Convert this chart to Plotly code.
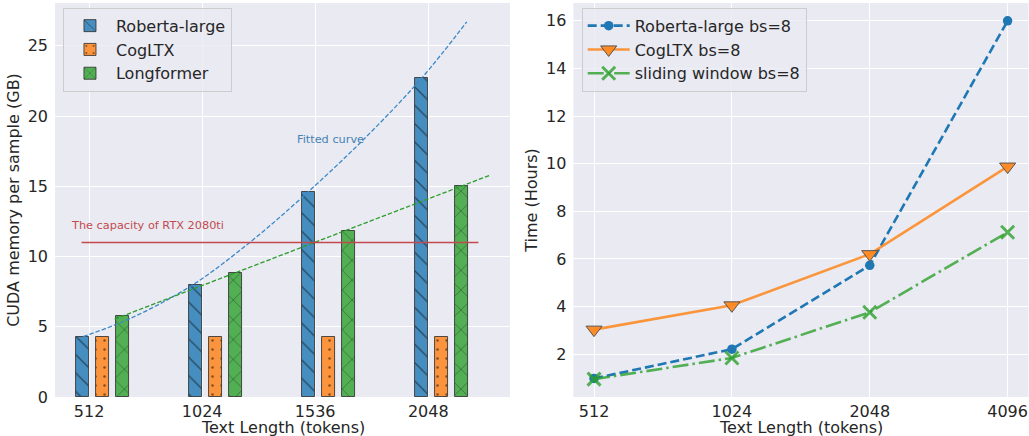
import plotly.graph_objects as go

# ---------------- data ----------------
lengths_mem = [512, 1024, 1536, 2048]
roberta_mem = [4.3, 8.0, 14.6, 22.7]
cogltx_mem = [4.3, 4.3, 4.3, 4.3]
longformer_mem = [5.74, 8.83, 11.84, 14.99]

# fitted curves
fit_rob_x = [485, 700, 983, 1255, 1504, 1769, 2018, 2222]
fit_rob_y = [4.3, 5.6, 8.0, 11.2, 14.6, 18.55, 22.7, 26.7]
fit_long_x = [628, 2324]
fit_long_y = [5.55, 15.77]

capacity = 11.0
capacity_x = [478, 2275]

time_labels = ["512", "1024", "2048", "4096"]
time_idx = [0, 1, 2, 3]
roberta_time = [0.98, 2.21, 5.73, 16.0]
cogltx_time = [3.03, 4.05, 6.2, 9.88]
sliding_time = [0.95, 1.84, 3.76, 7.12]

x_title = "Text Length (tokens)"

# ---------------- style ----------------
BG = "#EAEAF2"
TXT = "#262626"
FONT = "DejaVu Sans"
FS = 16
C_BLUE = "#1f77b4"
BAR_BLUE = "#478ec0"
BAR_ORANGE = "#fb943c"
BAR_GREEN = "#52af54"
RED = "#c24a4f"

fig = go.Figure()

edge = dict(color="rgba(50,50,50,0.85)", width=1)

fig.add_trace(go.Bar(
    x=lengths_mem, y=roberta_mem, width=60, offset=-60, name="Roberta-large",
    marker=dict(color=BAR_BLUE, line=edge,
                pattern=dict(shape="\\", fgcolor="black", size=13, solidity=0.1)),
    xaxis="x", yaxis="y", legend="legend"))
fig.add_trace(go.Bar(
    x=lengths_mem, y=cogltx_mem, width=60, offset=30, name="CogLTX",
    marker=dict(color=BAR_ORANGE, line=edge,
                pattern=dict(shape=".", fgcolor="black", size=9, solidity=0.06)),
    xaxis="x", yaxis="y", legend="legend"))
fig.add_trace(go.Bar(
    x=lengths_mem, y=longformer_mem, width=60, offset=120, name="Longformer",
    marker=dict(color=BAR_GREEN, line=edge,
                pattern=dict(shape="x", fgcolor="black", size=14, solidity=0.08)),
    xaxis="x", yaxis="y", legend="legend"))

fig.add_trace(go.Scatter(
    x=fit_rob_x, y=fit_rob_y, mode="lines", line_shape="spline",
    line=dict(color="#3b88c8", width=1.3, dash="4.5px,2px"),
    showlegend=False, xaxis="x", yaxis="y"))
fig.add_trace(go.Scatter(
    x=fit_long_x, y=fit_long_y, mode="lines",
    line=dict(color="#2a9d2a", width=1.3, dash="4.5px,2px"),
    showlegend=False, xaxis="x", yaxis="y"))
fig.add_trace(go.Scatter(
    x=capacity_x, y=[capacity, capacity], mode="lines",
    line=dict(color=RED, width=1.6),
    showlegend=False, xaxis="x", yaxis="y"))

# right panel
fig.add_trace(go.Scatter(
    x=time_idx, y=roberta_time, mode="lines+markers", name="Roberta-large bs=8",
    line=dict(color=C_BLUE, width=2.6, dash="9px,4px"),
    marker=dict(symbol="circle", size=9.5, color=C_BLUE),
    xaxis="x2", yaxis="y2", legend="legend2"))
fig.add_trace(go.Scatter(
    x=time_idx, y=cogltx_time, mode="lines+markers", name="CogLTX bs=8",
    line=dict(color="rgba(255,127,14,0.8)", width=2.6),
    marker=dict(symbol="triangle-down", size=14, color="rgba(255,135,30,0.95)",
                line=dict(color="#555555", width=1)),
    xaxis="x2", yaxis="y2", legend="legend2"))
fig.add_trace(go.Scatter(
    x=time_idx, y=sliding_time, mode="lines+markers", name="sliding window bs=8",
    line=dict(color="rgba(44,160,44,0.8)", width=2.6, dash="16px,4px,2.5px,4px"),
    marker=dict(symbol="x-thin", size=13, color="rgba(44,160,44,0.8)",
                line=dict(color="rgba(44,160,44,0.8)", width=3)),
    xaxis="x2", yaxis="y2", legend="legend2"))

axis_common = dict(showgrid=True, gridcolor="white", gridwidth=1, zeroline=False,
                   showline=False, ticks="", automargin=False,
                   tickfont=dict(family=FONT, size=FS, color=TXT),
                   title_font=dict(family=FONT, size=FS, color=TXT))

legend_common = dict(bgcolor="rgba(234,234,242,0.8)", bordercolor="#cccccc", borderwidth=1,
                     font=dict(family=FONT, size=FS, color=TXT),
                     xanchor="left", yanchor="top", tracegroupgap=0, itemwidth=42)

title_font = dict(family=FONT, size=FS, color=TXT)

fig.update_layout(
    width=1029, height=436,
    margin=dict(l=0, r=0, t=3, b=39),
    paper_bgcolor="white", plot_bgcolor=BG,
    barmode="overlay", bargap=0,
    font=dict(family=FONT, size=FS, color=TXT),
    xaxis=dict(axis_common, domain=[0.0535, 0.4956], range=[358, 2418],
               tickvals=lengths_mem, ticktext=[str(v) for v in lengths_mem],
               ticklabelstandoff=3, anchor="y"),
    yaxis=dict(axis_common, domain=[0, 1], range=[0, 28.05],
               tickvals=[0, 5, 10, 15, 20, 25], ticklabelstandoff=6,
               title=dict(text="CUDA memory per sample (GB)", standoff=4), anchor="x"),
    xaxis2=dict(axis_common, domain=[0.5572, 0.9993], range=[-0.15, 3.15],
                tickvals=time_idx, ticktext=time_labels, ticklabelstandoff=3, anchor="y2"),
    yaxis2=dict(axis_common, domain=[0, 1], range=[0.2, 16.75],
                tickvals=[2, 4, 6, 8, 10, 12, 14, 16], ticklabelstandoff=6,
                title=dict(text="Time (Hours)", standoff=4), anchor="x2"),
    legend=dict(legend_common, x=0.0612, y=0.988),
    legend2=dict(legend_common, x=0.5653, y=0.988),
    annotations=[
        dict(x=420, y=12.2, xref="x", yref="y", text="The capacity of RTX 2080ti",
             showarrow=False, xanchor="left", yanchor="middle",
             font=dict(family=FONT, size=11.3, color=RED)),
        dict(x=1445, y=18.3, xref="x", yref="y", text="Fitted curve",
             showarrow=False, xanchor="left", yanchor="middle",
             font=dict(family=FONT, size=11.3, color="#4682b4")),
        dict(x=0.5, y=-0.078, xref="x domain", yref="paper", text=x_title,
             showarrow=False, xanchor="center", yanchor="middle", font=title_font),
        dict(x=0.5, y=-0.078, xref="x2 domain", yref="paper", text=x_title,
             showarrow=False, xanchor="center", yanchor="middle", font=title_font),
    ],
)

fig.write_html("out.html", config={"displayModeBar": False},
               post_script="document.body.style.margin='0';document.body.style.overflow='hidden';")
